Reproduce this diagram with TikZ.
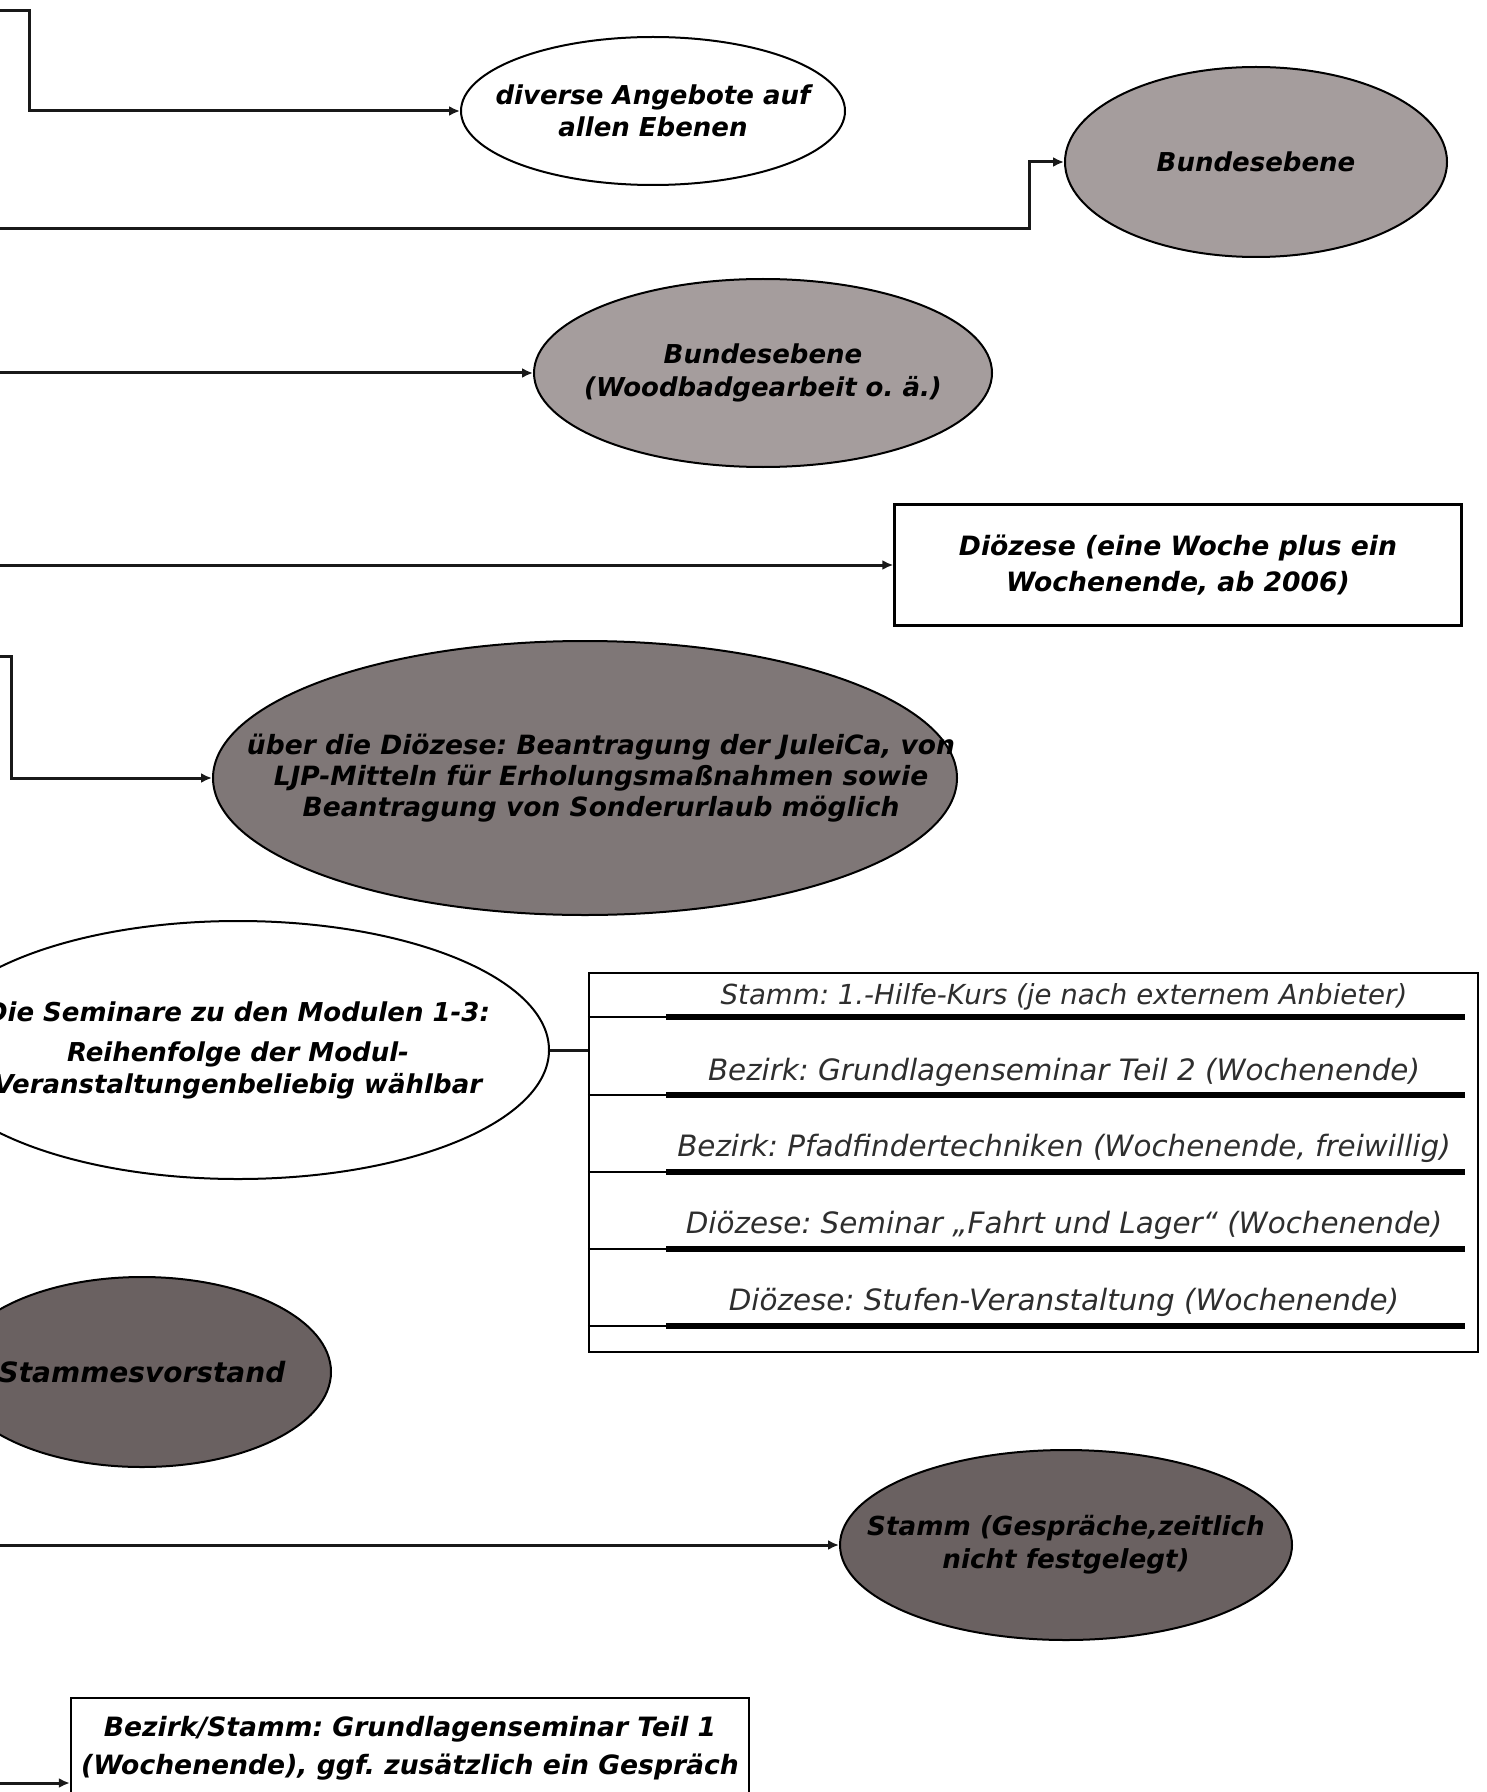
\documentclass[tikz,border=0pt]{standalone}
\usepackage{fontspec}
\setmainfont{DejaVu Sans}
\frenchspacing
\usetikzlibrary{shapes.geometric,arrows.meta,calc}
\definecolor{gLight}{RGB}{165,157,157}
\definecolor{gMid}{RGB}{127,119,119}
\definecolor{gDark}{RGB}{106,97,97}
\definecolor{lineC}{RGB}{25,25,25}
\tikzset{
  ell/.style={ellipse, draw=black, line width=1pt, inner xsep=-200pt, inner ysep=-80pt, align=center,
    font=\fontsize{13}{16}\selectfont\bfseries\itshape},
  rbox/.style={rectangle, draw=black, line width=1.2pt, inner sep=0pt, align=center,
    font=\fontsize{13.3}{18}\selectfont\bfseries\itshape},
  conn/.style={draw=lineC, line width=1.5pt, -{Latex[length=5.5pt,width=5pt]}},
  itemtext/.style={inner sep=0pt, font=\fontsize{14.7}{16}\selectfont\itshape, text=black!82},
  thinbar/.style={draw=black, line width=0.9pt},
  thickbar/.style={draw=black, line width=3.2pt}
}
\begin{document}
\begin{tikzpicture}[x=0.5pt,y=-0.5pt]
\useasboundingbox (0,0) rectangle (1487,1792);
\clip (0,0) rectangle (1487,1792);
\fill[white] (0,0) rectangle (1487,1792);

% nodes
\node[ell, fill=white, minimum width=192pt, minimum height=74pt] (E1) at (653,111)
  {diverse Angebote auf\\allen Ebenen};
\node[ell, fill=gLight, minimum width=191pt, minimum height=95pt] (E2) at (1256,162)
  {Bundesebene};
\node[ell, fill=gLight, minimum width=229pt, minimum height=94pt,
  font=\fontsize{13}{16.6}\selectfont\bfseries\itshape] (E3) at (763,373)
  {Bundesebene\\(Woodbadgearbeit o. ä.)};
\node[rbox, fill=white, minimum width=283.5pt, minimum height=60.5pt] (D) at (1178,565)
  {Diözese (eine Woche plus ein\\Wochenende, ab 2006)};
\node[ell, fill=gMid, minimum width=372pt, minimum height=137pt,
  font=\fontsize{13.25}{15.7}\selectfont\bfseries\itshape] (E5) at (585,778)
  {\hspace*{16pt}über die Diözese: Beantragung der JuleiCa, von\\\hspace*{16pt}LJP-Mitteln für Erholungsmaßnahmen sowie\\\hspace*{16pt}Beantragung von Sonderurlaub möglich};
\node[ell, fill=white, minimum width=311pt, minimum height=129pt,
  font=\fontsize{13}{16}\selectfont\bfseries\itshape] (E6) at (238,1050)
  {Die Seminare zu den Modulen 1-3:\\[4pt]Reihenfolge der Modul-\\Veranstaltungenbeliebig wählbar};
\node[rectangle, draw=black, line width=1.2pt, minimum width=444.5pt, minimum height=189.5pt,
  inner sep=0pt] (list) at (1033.5,1162.5) {};
\node[ell, fill=gDark, minimum width=189pt, minimum height=95pt,
  font=\fontsize{14}{16}\selectfont\bfseries\itshape] (E7) at (142,1372)
  {Stammesvorstand};
\node[ell, fill=gDark, minimum width=226pt, minimum height=95pt,
  font=\fontsize{13.1}{16.6}\selectfont\bfseries\itshape] (E8) at (1066,1545)
  {Stamm (Gespräche,zeitlich\\nicht festgelegt)};
\node[rbox, fill=white, minimum width=339pt, minimum height=85pt,
  font=\fontsize{13.3}{19}\selectfont\bfseries\itshape] (B) at (410,1783)
  {Bezirk/Stamm: Grundlagenseminar Teil 1\\(Wochenende), ggf. zusätzlich ein Gespräch\\\mbox{}\\\mbox{}};

% list rows
\node[itemtext, font=\fontsize{13.8}{16}\selectfont\itshape] (L1) at (1064,997) {Stamm: 1.-Hilfe-Kurs (je nach externem Anbieter)};
\node[itemtext] (L2) at (1064,1072) {Bezirk: Grundlagenseminar Teil 2 (Wochenende)};
\node[itemtext] (L3) at (1064,1148) {Bezirk: Pfadfindertechniken (Wochenende, freiwillig)};
\node[itemtext] (L4) at (1064,1225) {Diözese: Seminar „Fahrt und Lager“ (Wochenende)};
\node[itemtext] (L5) at (1064,1302) {Diözese: Stufen-Veranstaltung (Wochenende)};
\foreach \yy in {1017,1095,1172,1249,1326}{
  \draw[thinbar] (list.west |- 0,\yy) -- (666,\yy);
  \draw[thickbar] (666,\yy) -- (1465,\yy);
}

% connectors
\coordinate (s1) at (0,11);
\coordinate (s2) at (0,229);
\coordinate (s3) at (0,373);
\coordinate (s4) at (0,565);
\coordinate (s5) at (0,656);
\coordinate (s8) at (0,1545);
\coordinate (s9) at (0,1783);
\draw[conn] (s1) -- ++(29,0) |- (E1.west);
\draw[conn] (s2) -- ++(1029,0) |- (E2.west);
\draw[conn] (s3) -- (E3.west);
\draw[conn] (s4) -- (D.west);
\draw[conn] (s5) -- ++(11,0) |- (E5.west);
\draw[draw=lineC, line width=1.5pt] (E6.east) -- (E6.east -| list.west);
\draw[conn] (s8) -- (E8.west);
\draw[conn] (s9) -- (B.west);
\end{tikzpicture}
\end{document}
